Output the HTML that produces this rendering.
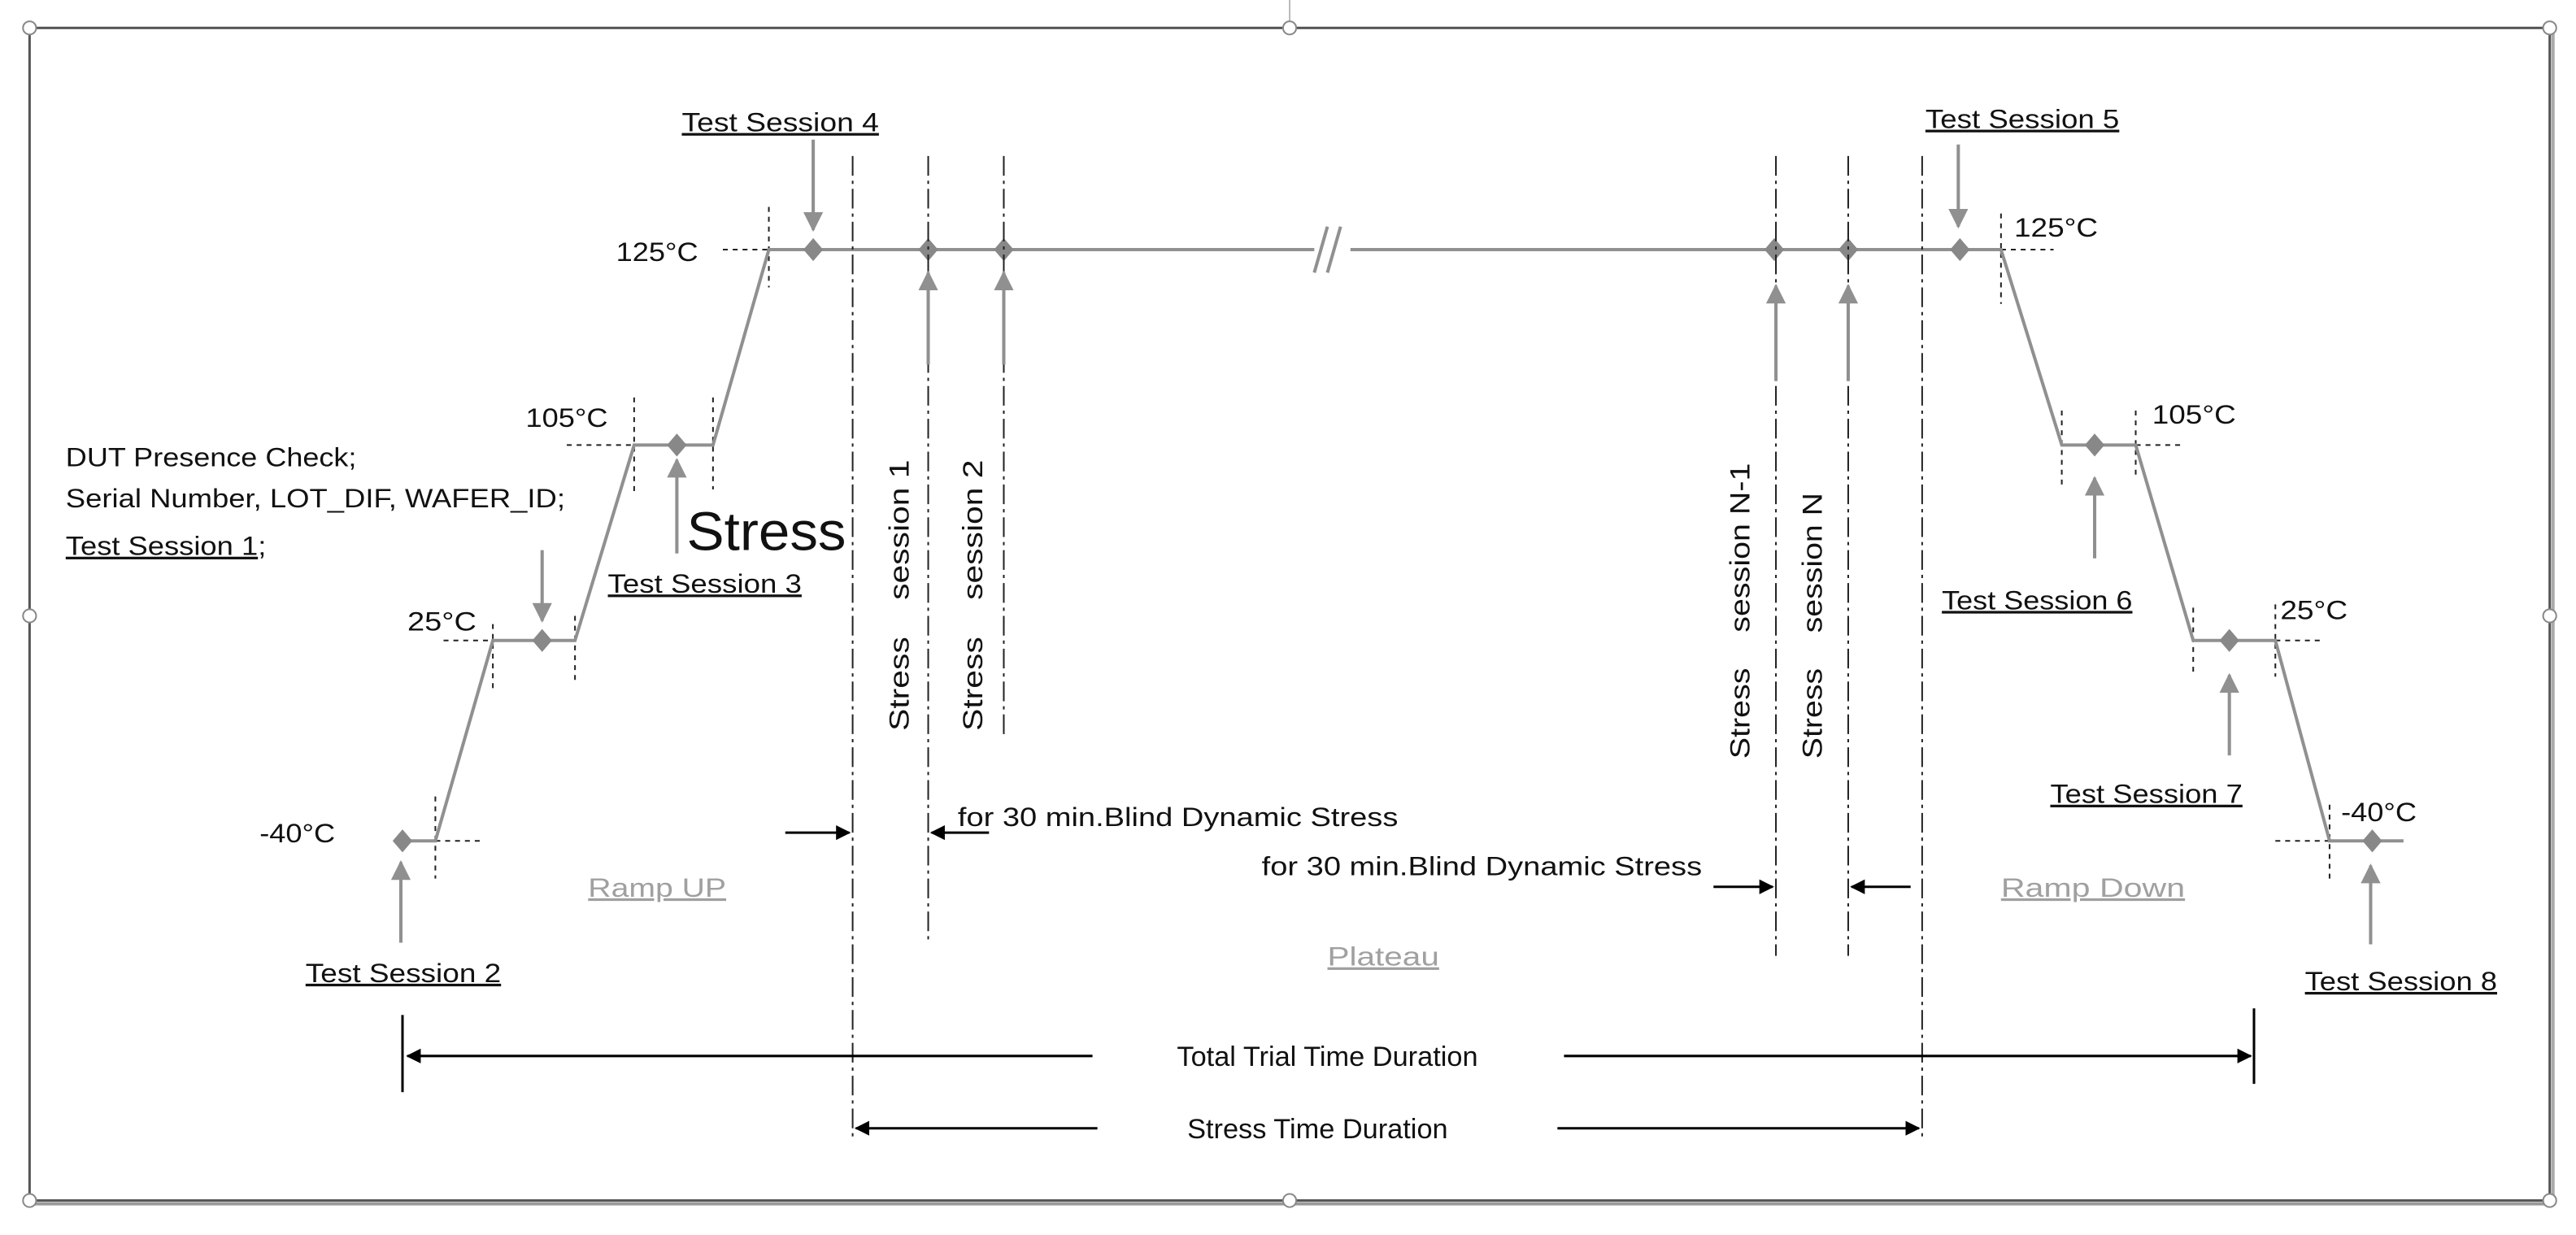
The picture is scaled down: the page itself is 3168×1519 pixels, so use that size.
<!DOCTYPE html>
<html><head><meta charset="utf-8"><style>
html,body{margin:0;padding:0;background:#fff;}
svg{display:block;}
text{font-family:"Liberation Sans",sans-serif;fill:#111;}
</style></head><body>
<svg width="3168" height="1519" viewBox="0 0 1568 752" preserveAspectRatio="none" xmlns="http://www.w3.org/2000/svg">
<defs>
<marker id="ga" viewBox="0 0 10 10" refX="9" refY="5" markerWidth="6" markerHeight="6" orient="auto"><path d="M0,0 L10,5 L0,10 z" fill="#909090"/></marker>
<marker id="ba" viewBox="0 0 10 10" refX="9" refY="5" markerWidth="6" markerHeight="6" orient="auto"><path d="M0,0 L10,5 L0,10 z" fill="#000"/></marker>
</defs>
<line x1="785" y1="0" x2="785" y2="17" stroke="#bbb" stroke-width="1"/>
<rect x="18" y="17" width="1534" height="714" fill="none" stroke="#555" stroke-width="1.5"/>
<line x1="20" y1="733" x2="1554" y2="733" stroke="#999" stroke-width="2"/>
<line x1="1554" y1="19" x2="1554" y2="733" stroke="#aaa" stroke-width="2"/>
<g fill="#fff" stroke="#888" stroke-width="1">
<circle cx="18" cy="17" r="4"/><circle cx="785" cy="17" r="4"/><circle cx="1552" cy="17" r="4"/>
<circle cx="18" cy="375" r="4"/><circle cx="1552" cy="375" r="4"/>
<circle cx="18" cy="731" r="4"/><circle cx="785" cy="731" r="4"/><circle cx="1552" cy="731" r="4"/>
</g>
<g stroke="#222" stroke-width="1" stroke-dasharray="3,3" fill="none">
<line x1="265" y1="512" x2="295" y2="512"/><line x1="265" y1="485" x2="265" y2="535"/>
<line x1="270" y1="390" x2="300" y2="390"/><line x1="300" y1="380" x2="300" y2="420"/><line x1="350" y1="375" x2="350" y2="415"/>
<line x1="345" y1="271" x2="386" y2="271"/><line x1="386" y1="242" x2="386" y2="300"/><line x1="434" y1="242" x2="434" y2="298"/>
<line x1="440" y1="152" x2="468" y2="152"/><line x1="468" y1="126" x2="468" y2="175"/>
<line x1="1218" y1="130" x2="1218" y2="185"/><line x1="1218" y1="152" x2="1250" y2="152"/>
<line x1="1255" y1="250" x2="1255" y2="295"/><line x1="1300" y1="250" x2="1300" y2="292"/><line x1="1300" y1="271" x2="1330" y2="271"/>
<line x1="1335" y1="370" x2="1335" y2="412"/><line x1="1385" y1="368" x2="1385" y2="412"/><line x1="1385" y1="390" x2="1415" y2="390"/>
<line x1="1418" y1="490" x2="1418" y2="535"/><line x1="1385" y1="512" x2="1418" y2="512"/>
</g>
<g stroke="#909090" stroke-width="2" fill="none">
<polyline points="240,512 265,512 300,390 350,390 386,271 434,271 468,152 800,152"/>
<polyline points="822,152 1218,152 1255,271 1300,271 1335,390 1385,390 1418,512 1463,512"/>
<line x1="800" y1="166" x2="808" y2="138"/><line x1="808" y1="166" x2="816" y2="138"/>
</g>
<g fill="#888">
<path d="M245,505 L251,512 L245,519 L239,512z"/>
<path d="M330,383 L336,390 L330,397 L324,390z"/>
<path d="M412,264 L418,271 L412,278 L406,271z"/>
<path d="M495,145 L501,152 L495,159 L489,152z"/>
<path d="M565,145 L571,152 L565,159 L559,152z"/>
<path d="M611,145 L617,152 L611,159 L605,152z"/>
<path d="M1080,145 L1086,152 L1080,159 L1074,152z"/>
<path d="M1125,145 L1131,152 L1125,159 L1119,152z"/>
<path d="M1193,145 L1199,152 L1193,159 L1187,152z"/>
<path d="M1275,264 L1281,271 L1275,278 L1269,271z"/>
<path d="M1357,383 L1363,390 L1357,397 L1351,390z"/>
<path d="M1444,505 L1450,512 L1444,519 L1438,512z"/>
</g>
<g stroke="#222" stroke-width="1" stroke-dasharray="12,3,2,3" fill="none">
<line x1="519" y1="95" x2="519" y2="695"/><line x1="565" y1="95" x2="565" y2="572"/>
<line x1="611" y1="95" x2="611" y2="450"/><line x1="1081" y1="95" x2="1081" y2="582"/>
<line x1="1125" y1="95" x2="1125" y2="582"/><line x1="1170" y1="95" x2="1170" y2="695"/>
</g>
<g stroke="#909090" stroke-width="2" marker-end="url(#ga)">
<line x1="495" y1="85" x2="495" y2="140"/>
<line x1="412" y1="337" x2="412" y2="280"/>
<line x1="330" y1="335" x2="330" y2="378"/>
<line x1="244" y1="574" x2="244" y2="525"/>
<line x1="565" y1="222" x2="565" y2="166"/>
<line x1="611" y1="222" x2="611" y2="166"/>
<line x1="1081" y1="232" x2="1081" y2="174"/>
<line x1="1125" y1="232" x2="1125" y2="174"/>
<line x1="1192" y1="88" x2="1192" y2="138"/>
<line x1="1275" y1="340" x2="1275" y2="291"/>
<line x1="1357" y1="460" x2="1357" y2="411"/>
<line x1="1443" y1="575" x2="1443" y2="527"/>
</g>
<g stroke="#000" stroke-width="1.5" marker-end="url(#ba)">
<line x1="478" y1="507" x2="517" y2="507"/><line x1="602" y1="507" x2="567" y2="507"/>
<line x1="1043" y1="540" x2="1079" y2="540"/><line x1="1163" y1="540" x2="1127" y2="540"/>
<line x1="665" y1="643" x2="248" y2="643"/><line x1="952" y1="643" x2="1370" y2="643"/>
<line x1="668" y1="687" x2="521" y2="687"/><line x1="948" y1="687" x2="1168" y2="687"/>
</g>
<line x1="245" y1="618" x2="245" y2="665" stroke="#000" stroke-width="1.5"/>
<line x1="1372" y1="614" x2="1372" y2="660" stroke="#000" stroke-width="1.5"/>
<g font-size="16">
<text x="415" y="80" textLength="120" lengthAdjust="spacingAndGlyphs" text-decoration="underline">Test Session 4</text>
<text x="1172" y="78" textLength="118" lengthAdjust="spacingAndGlyphs" text-decoration="underline">Test Session 5</text>
<text x="370" y="361" textLength="118" lengthAdjust="spacingAndGlyphs" text-decoration="underline">Test Session 3</text>
<text x="186" y="598" textLength="119" lengthAdjust="spacingAndGlyphs" text-decoration="underline">Test Session 2</text>
<text x="1182" y="371" textLength="116" lengthAdjust="spacingAndGlyphs" text-decoration="underline">Test Session 6</text>
<text x="1248" y="489" textLength="117" lengthAdjust="spacingAndGlyphs" text-decoration="underline">Test Session 7</text>
<text x="1403" y="603" textLength="117" lengthAdjust="spacingAndGlyphs" text-decoration="underline">Test Session 8</text>
<text x="40" y="284" textLength="177" lengthAdjust="spacingAndGlyphs">DUT Presence Check;</text>
<text x="40" y="309" textLength="304" lengthAdjust="spacingAndGlyphs">Serial Number, LOT_DIF, WAFER_ID;</text>
<text x="40" y="338" textLength="122" lengthAdjust="spacingAndGlyphs"><tspan text-decoration="underline">Test Session 1</tspan>;</text>
<text x="375" y="159" textLength="50" lengthAdjust="spacingAndGlyphs">125°C</text>
<text x="320" y="260" textLength="50" lengthAdjust="spacingAndGlyphs">105°C</text>
<text x="248" y="384" textLength="42" lengthAdjust="spacingAndGlyphs">25°C</text>
<text x="158" y="513" textLength="46" lengthAdjust="spacingAndGlyphs">-40°C</text>
<text x="1226" y="144" textLength="51" lengthAdjust="spacingAndGlyphs">125°C</text>
<text x="1310" y="258" textLength="51" lengthAdjust="spacingAndGlyphs">105°C</text>
<text x="1388" y="377" textLength="41" lengthAdjust="spacingAndGlyphs">25°C</text>
<text x="1425" y="500" textLength="46" lengthAdjust="spacingAndGlyphs">-40°C</text>
<text x="583" y="503" textLength="268" lengthAdjust="spacingAndGlyphs">for 30 min.Blind Dynamic Stress</text>
<text x="768" y="533" textLength="268" lengthAdjust="spacingAndGlyphs">for 30 min.Blind Dynamic Stress</text>
<text x="358" y="546" style="fill:#a0a0a0" textLength="84" lengthAdjust="spacingAndGlyphs" text-decoration="underline">Ramp UP</text>
<text x="808" y="588" style="fill:#a0a0a0" textLength="68" lengthAdjust="spacingAndGlyphs" text-decoration="underline">Plateau</text>
<text x="1218" y="546" style="fill:#a0a0a0" textLength="112" lengthAdjust="spacingAndGlyphs" text-decoration="underline">Ramp Down</text>
<text x="808" y="649" text-anchor="middle" font-size="17">Total Trial Time Duration</text>
<text x="802" y="693" text-anchor="middle" font-size="17">Stress Time Duration</text>
<text x="418" y="335" font-size="33" textLength="97" lengthAdjust="spacingAndGlyphs">Stress</text>
<text transform="translate(553,445) rotate(-90)" font-size="17" textLength="165" lengthAdjust="spacingAndGlyphs" xml:space="preserve">Stress    session 1</text>
<text transform="translate(598,445) rotate(-90)" font-size="17" textLength="165" lengthAdjust="spacingAndGlyphs" xml:space="preserve">Stress    session 2</text>
<text transform="translate(1065,462) rotate(-90)" font-size="17" textLength="180" lengthAdjust="spacingAndGlyphs" xml:space="preserve">Stress    session N-1</text>
<text transform="translate(1109,462) rotate(-90)" font-size="17" textLength="162" lengthAdjust="spacingAndGlyphs" xml:space="preserve">Stress    session N</text>
</g>
</svg>
</body></html>
